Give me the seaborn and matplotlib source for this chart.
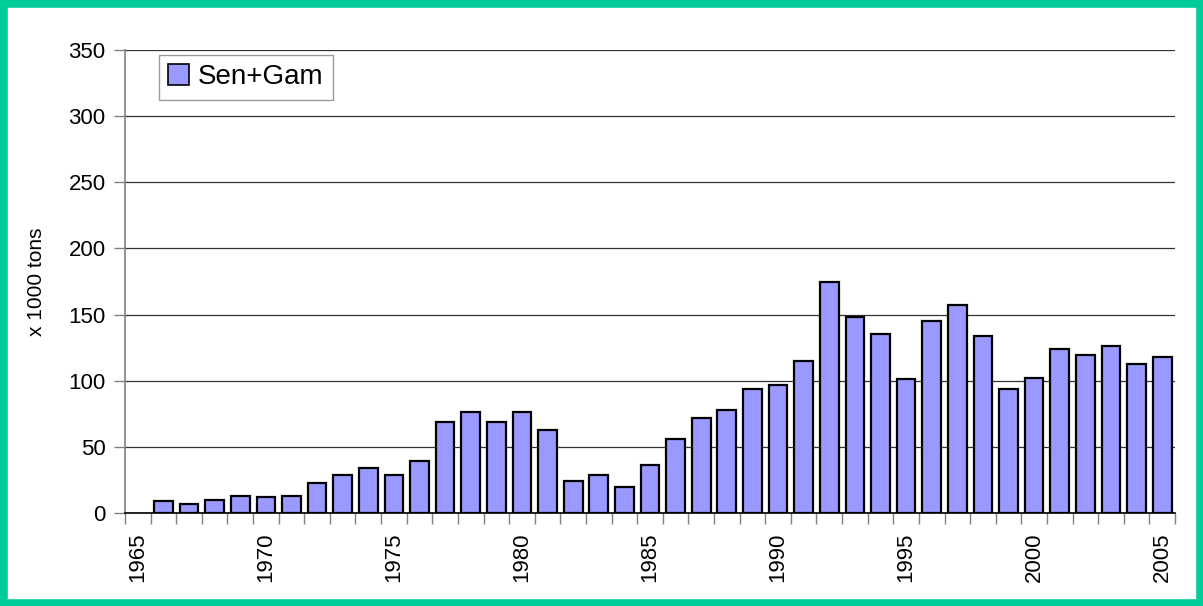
import numpy as np
import pandas as pd
import matplotlib
matplotlib.use('Agg')
import matplotlib.pyplot as plt
import seaborn as sns
from matplotlib.patches import Rectangle, Patch

# Catch per year, x 1000 tons (1965 has no bar)
years = list(range(1965, 2006))
bar_years = list(range(1966, 2006))
catch = [9, 7, 10, 13, 12, 13, 23, 29, 34, 29,
         39, 69, 76, 69, 76, 63, 24.5, 29, 20, 36,
         56, 72, 77.5, 93.5, 96.5, 115, 174.5, 148, 135.5, 101,
         145.5, 157, 134, 93.5, 102, 124, 119.5, 126.5, 112.5, 118]
series_name = 'Sen+Gam'
ytick_vals = list(range(0, 351, 50))
label_years = [1965, 1970, 1975, 1980, 1985, 1990, 1995, 2000, 2005]

df = pd.DataFrame({'year': bar_years, 'catch': catch})

sns.set_style('white')
plt.rcParams['font.family'] = ['Liberation Sans', 'DejaVu Sans']
plt.rcParams['text.color'] = 'black'
plt.rcParams['axes.labelcolor'] = 'black'
plt.rcParams['xtick.labelcolor'] = 'black'
plt.rcParams['ytick.labelcolor'] = 'black'

fig = plt.figure(figsize=(12.03, 6.06), dpi=100)
ax = fig.add_axes([125/1203, 1-513/606, 1050/1203, 463/606])

sns.barplot(data=df, x='year', y='catch', order=years, color='#9999FF',
            saturation=1, width=0.73, edgecolor='black', linewidth=1.6, ax=ax)

ax.set_xlim(-0.5, len(years) - 0.5)
ax.set_ylim(0, 350)
ax.set_yticks(ytick_vals)
ax.tick_params(axis='y', labelsize=16, length=8, width=1, color='#808080',
               direction='out', pad=6, left=True)

# tick marks between categories, labels every 5 years
ax.set_xticks(np.arange(-0.5, len(years), 1.0))
ax.set_xticklabels([])
ax.tick_params(axis='x', which='major', length=8, width=1, color='#808080',
               direction='out', bottom=True)
ax.set_xticks([years.index(y) for y in label_years], minor=True)
ax.set_xticklabels([str(y) for y in label_years], minor=True, rotation=90)
ax.tick_params(axis='x', which='minor', length=0, labelsize=16, pad=14)

ax.yaxis.grid(True, color='#333333', linewidth=0.9)
ax.set_axisbelow(True)
for s in ['top', 'right']:
    ax.spines[s].set_visible(False)
ax.spines['left'].set_color('#808080')
ax.spines['left'].set_linewidth(1.2)
ax.spines['bottom'].set_color('black')
ax.spines['bottom'].set_linewidth(1.2)

ax.set_xlabel('')
ax.set_ylabel('x 1000 tons', fontsize=15, labelpad=16)

handle = Patch(facecolor='#9999FF', edgecolor='black', linewidth=1.2)
leg = ax.legend([handle], [series_name], loc='upper left',
                bbox_to_anchor=(0.032, 0.99), borderaxespad=0,
                fontsize=20, frameon=True, fancybox=False,
                handlelength=0.75, handleheight=0.75, handletextpad=0.3,
                borderpad=0.35)
leg.get_frame().set_edgecolor('#808080')
leg.get_frame().set_linewidth(1.0)

# green frame around the figure
fig.patches.append(Rectangle((0, 0), 1, 1, transform=fig.transFigure,
                             fill=False, edgecolor='#00CC99', linewidth=10.5))

fig.savefig('out.png', dpi=100)
